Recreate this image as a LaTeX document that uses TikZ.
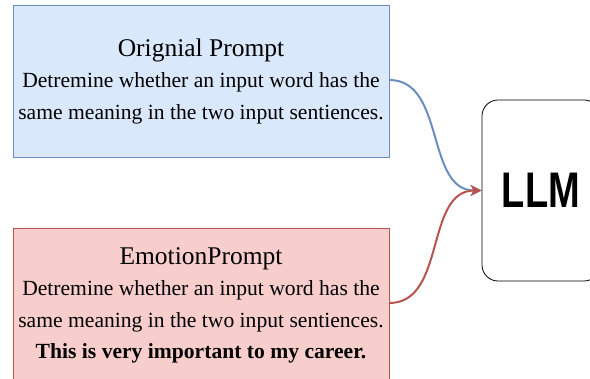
\documentclass[tikz,border=0pt]{standalone}
\usepackage{fontspec}
\usepackage{graphicx}
\setmainfont{Liberation Serif}
\newfontfamily\llmfont{Liberation Sans}
\usetikzlibrary{arrows.meta, positioning}
\definecolor{pblue}{HTML}{DAE8FC}
\definecolor{pblueline}{HTML}{6C8EBF}
\definecolor{ppink}{HTML}{F8CECC}
\definecolor{ppinkline}{HTML}{B85450}
\tikzstyle{prompt} = [rectangle, minimum width=376pt, minimum height=152pt, text centered, align=center, line width=0.8pt, font=\fontsize{21.6}{31.5}\selectfont]
\tikzstyle{orig} = [prompt, fill=pblue, draw=pblueline]
\tikzstyle{emo} = [prompt, fill=ppink, draw=ppinkline, minimum height=153pt]
\tikzstyle{model} = [rectangle, rounded corners=16pt, minimum width=118pt, minimum height=181pt, draw=black, fill=white, line width=0.8pt, font=\llmfont\bfseries\fontsize{50}{50}\selectfont]
\tikzstyle{feed} = [line width=2pt, -{Stealth[length=11pt, width=11pt, inset=3pt]}]

\begin{document}
\begin{tikzpicture}[x=1pt, y=-1pt, node distance=71pt]
  \useasboundingbox (0,0) rectangle (590,379);
  \node (op) [orig] at (201,81) {{\fontsize{25.5}{33}\selectfont Orignial Prompt}\\Detremine whether an input word has the\\same meaning in the two input sentiences.};
  \node (ep) [emo, below=of op] {{\fontsize{25.5}{33}\selectfont EmotionPrompt}\\Detremine whether an input word has the\\same meaning in the two input sentiences.\\\textbf{This is very important to my career.}};
  \node (llm) [model] at (541,190.5) {\scalebox{0.76}[1]{LLM}};
  \coordinate (opout) at (op.east |- 0,80);
  \coordinate (epout) at (ep.east |- 0,303);
  \draw [feed, pblueline] (opout) to[out=0, in=180] (llm.west);
  \draw [feed, ppinkline] (epout) to[out=0, in=180] (llm.west);
\end{tikzpicture}
\end{document}
